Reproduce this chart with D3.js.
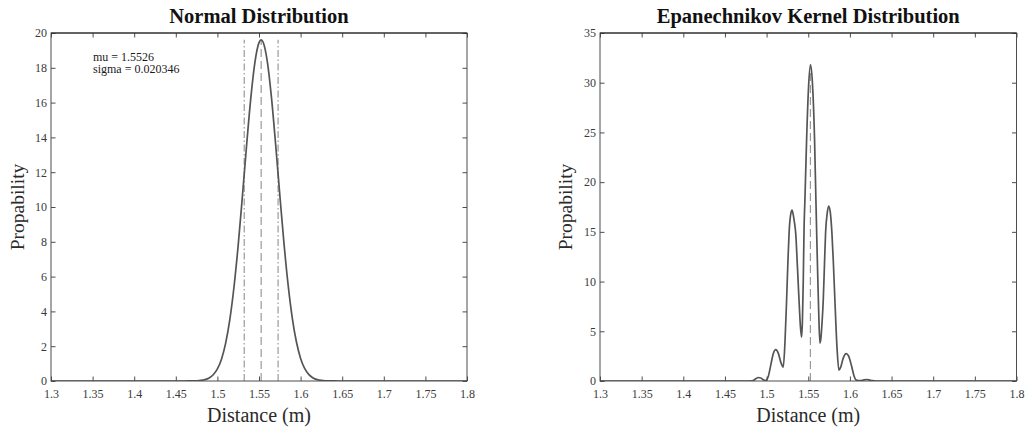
<!DOCTYPE html>
<html>
<head>
<meta charset="utf-8">
<script src="https://cdn.jsdelivr.net/npm/d3@7"></script>
<style>
  html, body { margin: 0; padding: 0; background: #fff; }
  svg { display: block; }
</style>
</head>
<body>
<svg id="chart" width="1028" height="430"></svg>
<script>
// ---------------- Data ----------------
const xTickValues = [1.3, 1.35, 1.4, 1.45, 1.5, 1.55, 1.6, 1.65, 1.7, 1.75, 1.8];
const xTickLabels = ["1.3", "1.35", "1.4", "1.45", "1.5", "1.55", "1.6", "1.65", "1.7", "1.75", "1.8"];

const normalYTicks = [0, 2, 4, 6, 8, 10, 12, 14, 16, 18, 20];
const epaYTicks = [0, 5, 10, 15, 20, 25, 30, 35];

// Normal distribution curve
const normalX = [1.30, 1.40, 1.45, 1.46, 1.47, 1.475, 1.48, 1.485, 1.49, 1.495, 1.50, 1.505, 1.51, 1.515,
  1.52, 1.525, 1.53, 1.535, 1.54, 1.545, 1.55, 1.5526, 1.555, 1.56, 1.565, 1.57, 1.575, 1.58, 1.585,
  1.59, 1.595, 1.60, 1.605, 1.61, 1.615, 1.62, 1.625, 1.63, 1.64, 1.65, 1.70, 1.80];
const normalY = [0, 0, 0, 0.001, 0.005, 0.014, 0.034, 0.079, 0.173, 0.357, 0.694, 1.27, 2.19, 3.55,
  5.43, 7.81, 10.58, 13.49, 16.19, 18.29, 19.45, 19.61, 19.47, 18.36, 16.29, 13.60, 10.70, 7.92, 5.52,
  3.62, 2.24, 1.30, 0.71, 0.367, 0.178, 0.081, 0.035, 0.014, 0.002, 0, 0, 0];

// Reference lines in the normal panel: mu - sigma, mu, mu + sigma
const normalDashDotX = [1.53225, 1.57295];
const normalMeanX = [1.5526];
const normalLineTop = 19.61;
const annotationLines = ["mu = 1.5526", "sigma = 0.020346"];

// Epanechnikov kernel density curve
const epaX = [1.30, 1.40, 1.48, 1.484, 1.487, 1.490, 1.493, 1.496, 1.499, 1.502, 1.505, 1.508, 1.511,
  1.514, 1.517, 1.520, 1.522, 1.524, 1.5255, 1.527, 1.529, 1.5305, 1.532, 1.5335, 1.535, 1.537, 1.539,
  1.5405, 1.542, 1.543, 1.544, 1.545, 1.546, 1.548, 1.5505, 1.5528, 1.555, 1.5576, 1.5592, 1.5605, 1.5615,
  1.5627, 1.564, 1.5652, 1.5665, 1.568, 1.5695, 1.5708, 1.5728, 1.5745, 1.5764, 1.5784, 1.580, 1.582,
  1.5845, 1.5868, 1.589, 1.592, 1.5955, 1.5985, 1.602, 1.605, 1.607, 1.610, 1.614, 1.617, 1.620, 1.623,
  1.627, 1.632, 1.70, 1.80];
const epaY = [0, 0, 0, 0.05, 0.22, 0.35, 0.3, 0.12, 0.05, 0.45, 1.6, 2.75, 3.15,
  2.8, 1.9, 1.4, 3.8, 8.1, 11.8, 14.9, 16.8, 17.2, 16.7, 15.9, 14.8, 11.5, 8.0,
  5.6, 4.4, 6.0, 10.0, 15.5, 18.2, 24.2, 29.8, 31.8, 30.0, 24.2, 18.2, 13.5, 10.2,
  6.5, 3.8, 4.3, 5.8, 8.1, 11.8, 14.9, 16.9, 17.6, 17.0, 14.9, 12.2, 8.1,
  3.4, 1.1, 1.4, 2.3, 2.75, 2.5, 1.5, 0.5, 0.12, 0.05, 0.05, 0.12, 0.15, 0.12,
  0.03, 0, 0, 0];
const epaMeanX = [1.5526];
const epaLineTop = 31.8;

// ---------------- Drawing ----------------
const svg = d3.select("#chart");
const FONT = "'Liberation Serif', 'Times New Roman', serif";
const axisColor = "#4d4d4d";
const curveColor = "#555555";
const refColor = "#9a9a9a";

function drawPanel(cfg) {
  const { left, right, top, bottom, yMax, yTicks, title, xs, ys } = cfg;
  const x = d3.scaleLinear().domain([1.3, 1.8]).range([left, right]);
  const y = d3.scaleLinear().domain([0, yMax]).range([bottom, top]);
  const g = svg.append("g");

  const clipId = "clip" + Math.round(left);
  svg.append("defs").append("clipPath").attr("id", clipId)
    .append("rect").attr("x", left).attr("y", top).attr("width", right - left).attr("height", bottom - top);

  // Reference lines
  const refG = g.append("g").attr("clip-path", `url(#${clipId})`);
  (cfg.dashDot || []).forEach(v => {
    refG.append("line")
      .attr("x1", x(v)).attr("x2", x(v)).attr("y1", y(0)).attr("y2", y(cfg.lineTop))
      .attr("stroke", refColor).attr("stroke-width", 1.2)
      .attr("stroke-dasharray", "7,2.5,1.5,2.5");
  });
  (cfg.dashed || []).forEach(v => {
    refG.append("line")
      .attr("x1", x(v)).attr("x2", x(v)).attr("y1", y(0)).attr("y2", y(cfg.lineTop))
      .attr("stroke", refColor).attr("stroke-width", 1.2)
      .attr("stroke-dasharray", "8,4");
  });

  // Curve
  const pts = xs.map((d, i) => [d, ys[i]]);
  refG.append("path")
    .datum(pts)
    .attr("fill", "none")
    .attr("stroke", curveColor)
    .attr("stroke-width", 1.7)
    .attr("d", d3.line().x(d => x(d[0])).y(d => y(d[1])).curve(d3.curveMonotoneX));

  // Axes (MATLAB style, inward ticks, box)
  const tickLen = 4.5;
  const styleAxis = (sel, showLabels) => {
    sel.select(".domain").remove();
    sel.selectAll(".tick line").attr("stroke", axisColor).attr("stroke-width", 1);
    sel.selectAll(".tick text")
      .attr("font-family", FONT).attr("font-size", "12px").attr("fill", "#3a3a3a")
      .style("display", showLabels ? null : "none");
  };
  const xFmt = (d) => xTickLabels[xTickValues.indexOf(d)];

  g.append("g").attr("transform", `translate(0,${bottom})`)
    .call(d3.axisBottom(x).tickValues(xTickValues).tickFormat(xFmt).tickSizeInner(-tickLen).tickSizeOuter(0).tickPadding(8))
    .call(s => styleAxis(s, true));
  g.append("g").attr("transform", `translate(0,${top})`)
    .call(d3.axisTop(x).tickValues(xTickValues).tickSizeInner(-tickLen).tickSizeOuter(0))
    .call(s => styleAxis(s, false));
  g.append("g").attr("transform", `translate(${left},0)`)
    .call(d3.axisLeft(y).tickValues(yTicks).tickFormat(d3.format("d")).tickSizeInner(-tickLen).tickSizeOuter(0).tickPadding(4))
    .call(s => styleAxis(s, true));
  g.append("g").attr("transform", `translate(${right},0)`)
    .call(d3.axisRight(y).tickValues(yTicks).tickSizeInner(-tickLen).tickSizeOuter(0))
    .call(s => styleAxis(s, false));

  // Box
  g.append("rect")
    .attr("x", left).attr("y", top).attr("width", right - left).attr("height", bottom - top)
    .attr("fill", "none").attr("stroke", axisColor).attr("stroke-width", 1);
  g.append("line").attr("x1", left).attr("x2", right).attr("y1", top).attr("y2", top)
    .attr("stroke", "#222").attr("stroke-width", 1);

  // Title
  g.append("text")
    .attr("x", (left + right) / 2).attr("y", 22.5)
    .attr("text-anchor", "middle")
    .attr("font-family", FONT).attr("font-weight", "bold").attr("font-size", "20.5px").attr("fill", "#111")
    .text(title);

  // X label
  g.append("text")
    .attr("x", (left + right) / 2).attr("y", 422)
    .attr("text-anchor", "middle")
    .attr("font-family", FONT).attr("font-size", "20px").attr("fill", "#2a2a2a")
    .text("Distance (m)");

  // Y label
  g.append("text")
    .attr("transform", `translate(${cfg.yLabelX},${(top + bottom) / 2}) rotate(-90)`)
    .attr("text-anchor", "middle")
    .attr("font-family", FONT).attr("font-size", "19.5px").attr("fill", "#2a2a2a")
    .text("Propability");

  return { x, y, g };
}

const p1 = drawPanel({
  left: 51, right: 467, top: 33, bottom: 381, yMax: 20, yTicks: normalYTicks,
  title: "Normal Distribution", xs: normalX, ys: normalY,
  dashDot: normalDashDotX, dashed: normalMeanX, lineTop: normalLineTop, yLabelX: 24
});

// Annotation
const ann = p1.g.append("text")
  .attr("font-family", FONT).attr("font-size", "12px").attr("fill", "#1a1a1a");
annotationLines.forEach((t, i) => {
  ann.append("tspan").attr("x", 93).attr("y", 60.5 + i * 12.8).text(t);
});

drawPanel({
  left: 600, right: 1016.5, top: 33, bottom: 381, yMax: 35, yTicks: epaYTicks,
  title: "Epanechnikov Kernel Distribution", xs: epaX, ys: epaY,
  dashed: epaMeanX, lineTop: epaLineTop, yLabelX: 572
});
</script>
</body>
</html>
